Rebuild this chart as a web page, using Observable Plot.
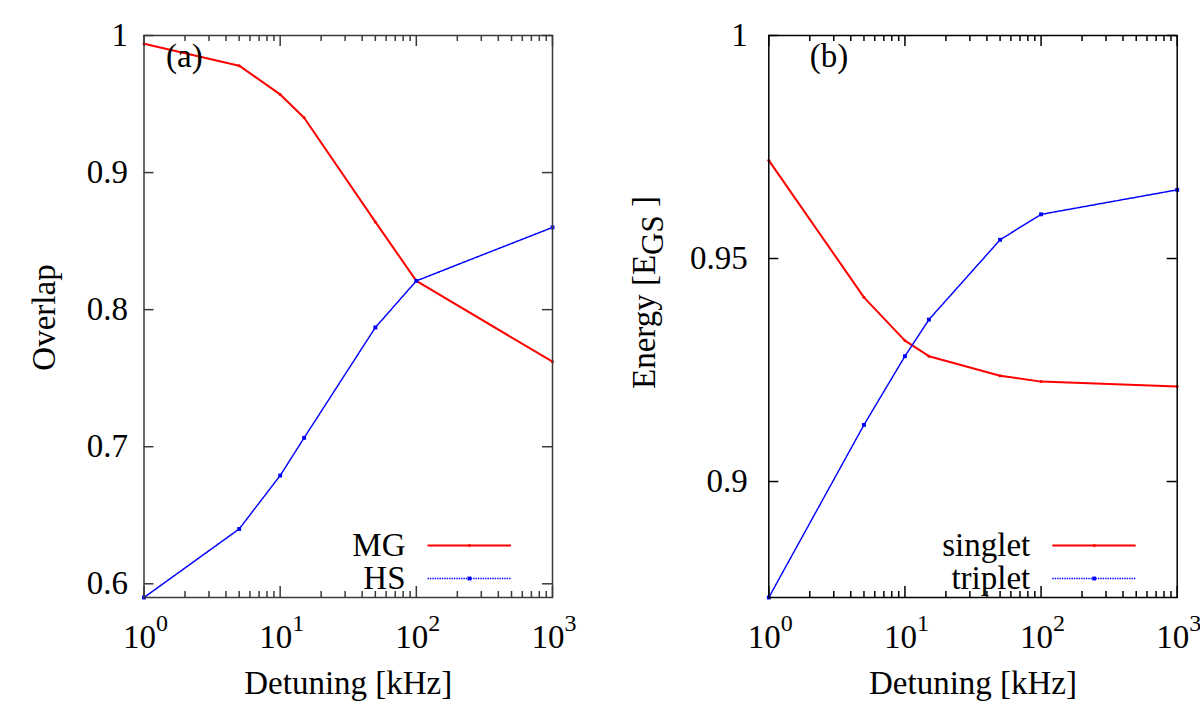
<!DOCTYPE html>
<html>
<head>
<meta charset="utf-8">
<script src="https://cdn.jsdelivr.net/npm/d3@7"></script>
<script src="https://cdn.jsdelivr.net/npm/@observablehq/plot@0.6"></script>
<style>
  body { margin: 0; background: #fff; }
  #wrap { display: flex; width: 1200px; height: 720px; background: #fff; }
  #wrap svg { display: block; overflow: visible; font-family: "Liberation Serif", "Times New Roman", serif !important; }
  #wrap svg text, #wrap svg tspan, #wrap svg g { font-family: "Liberation Serif", "Times New Roman", serif !important; }
</style>
</head>
<body>
<div id="wrap"></div>
<script>
// ---- data ----
const detuning = [1, 5, 10, 15, 50, 100, 1000];
const overlapMG = [0.994, 0.978, 0.957, 0.940, 0.864, 0.821, 0.762];
const overlapHS = [0.590, 0.640, 0.679, 0.7065, 0.787, 0.821, 0.860];
const energySinglet = [0.972, 0.9413, 0.9316, 0.9281, 0.9237, 0.9224, 0.9213];
const energyTriplet = [0.874, 0.9127, 0.9281, 0.9363, 0.9542, 0.9599, 0.9654];

const xDomain = [1, 1000];
const xMajor = [1, 10, 100, 1000];
const xMinor = [2, 3, 4, 5, 6, 7, 8, 9, 20, 30, 40, 50, 60, 70, 80, 90, 200, 300, 400, 500, 600, 700, 800, 900];
const xTickBase = ["10", "10", "10", "10"];
const xTickExp = ["0", "1", "2", "3"];
const xLabel = "Detuning [kHz]";

const yDomainA = [0.59, 1];
const yTicksA = [0.6, 0.7, 0.8, 0.9, 1];
const yTickLabelsA = ["0.6", "0.7", "0.8", "0.9", "1"];
const yLabelA = "Overlap";
const namesA = ["MG", "HS"];

const yDomainB = [0.874, 1];
const yTicksB = [0.9, 0.95, 1];
const yTickLabelsB = ["0.9", "0.95", "1"];
const yLabelB = "Energy [EGS]";
const namesB = ["singlet", "triplet"];

const FONT = "Liberation Serif";
const RED = "#ff0000";
const BLUE = "#0000ff";

function rows(values) {
  return detuning.map((x, i) => ({x, y: values[i]}));
}

function panel(cfg) {
  const width = 600, height = 720;
  const marginTop = 35, marginBottom = 123;
  const W = width - cfg.marginLeft - cfg.marginRight;
  const H = height - marginTop - marginBottom;
  const styles = [
    {stroke: RED, strokeWidth: 2, dash: null, r: 1.5},
    {stroke: BLUE, strokeWidth: 1.5, dash: "1.4,1", r: 2.2}
  ];
  const legendDy = [-52, -19];
  const marks = [];
  // ticks (inward, mirrored)
  const tk = {stroke: cfg.frameColor, strokeWidth: 1.5};
  marks.push(Plot.tickY(cfg.yTicks, {y: d => d, insetRight: W - 10, ...tk}));
  marks.push(Plot.tickY(cfg.yTicks, {y: d => d, insetLeft: W - 10, ...tk}));
  marks.push(Plot.tickX(xMajor, {x: d => d, insetTop: H - 11, ...tk}));
  marks.push(Plot.tickX(xMajor, {x: d => d, insetBottom: H - 11, ...tk}));
  marks.push(Plot.tickX(xMinor, {x: d => d, insetTop: H - 6, ...tk}));
  marks.push(Plot.tickX(xMinor, {x: d => d, insetBottom: H - 6, ...tk}));
  // data
  cfg.series.forEach((vals, i) => {
    const s = styles[i];
    marks.push(Plot.line(rows(vals), {x: "x", y: "y", stroke: s.stroke, strokeWidth: s.strokeWidth, strokeDasharray: s.dash}));
    if (i === 0) {
      marks.push(Plot.dot(rows(vals), {x: "x", y: "y", r: s.r, fill: s.stroke}));
    } else {
      marks.push(Plot.dot(rows(vals), {x: "x", y: "y", symbol: "square", r: s.r, fill: s.stroke}));
    }
  });
  // legend
  cfg.names.forEach((name, i) => {
    const s = styles[i];
    const dy = legendDy[i];
    marks.push(Plot.text([name], {frameAnchor: "bottom-right", dx: -147, dy, textAnchor: "end", lineAnchor: "middle", fontSize: 33, fontFamily: FONT, fill: "#000"}));
    marks.push(Plot.tickY([cfg.yDomain[0]], {y: d => d, dy, insetLeft: 284, insetRight: 41, stroke: s.stroke, strokeWidth: s.strokeWidth, strokeDasharray: s.dash}));
    if (i === 0) {
      marks.push(Plot.dot([cfg.yDomain[0]], {x: () => xDomain[1], y: d => d, dx: -83, dy, r: s.r, fill: s.stroke}));
    } else {
      marks.push(Plot.dot([cfg.yDomain[0]], {x: () => xDomain[1], y: d => d, dx: -83, dy, symbol: "square", r: s.r, fill: s.stroke}));
    }
  });
  // frame
  marks.push(Plot.frame({stroke: cfg.frameColor, strokeWidth: 1.5}));
  // y tick labels
  marks.push(Plot.text(cfg.yTicks, {y: d => d, text: (d, i) => cfg.yTickLabels[i], frameAnchor: "left", dx: cfg.tickLabelDx, textAnchor: "end", lineAnchor: "middle", fontSize: 33, fontFamily: FONT, fill: "#000"}));
  // x tick labels
  marks.push(Plot.text(xMajor, {x: d => d, text: (d, i) => xTickBase[i], frameAnchor: "bottom", dx: 12, dy: 50, textAnchor: "end", lineAnchor: "bottom", fontSize: 33, fontFamily: FONT, fill: "#000"}));
  marks.push(Plot.text(xMajor, {x: d => d, text: (d, i) => xTickExp[i], frameAnchor: "bottom", dx: 12, dy: 33, textAnchor: "start", lineAnchor: "bottom", fontSize: 24, fontFamily: FONT, fill: "#000"}));
  // axis labels
  marks.push(Plot.text([xLabel], {frameAnchor: "bottom", dy: 86, textAnchor: "middle", lineAnchor: "middle", fontSize: 33, fontFamily: FONT, fill: "#000"}));
  marks.push(Plot.text([cfg.yLabel], {frameAnchor: "left", rotate: -90, dx: cfg.yLabelDx, dy: cfg.yLabelDy, textAnchor: "middle", lineAnchor: "middle", fontSize: 33, fontFamily: FONT, fill: "#000"}));
  // panel tag
  marks.push(Plot.text([cfg.tag], {frameAnchor: "top-left", dx: cfg.tagDx, dy: 31, textAnchor: "start", lineAnchor: "bottom", fontSize: 33, fontFamily: FONT, fill: "#000"}));

  const svg = Plot.plot({
    width, height, marginTop, marginBottom,
    marginLeft: cfg.marginLeft, marginRight: cfg.marginRight,
    x: {type: "log", domain: xDomain, axis: null},
    y: {domain: cfg.yDomain, axis: null},
    style: {background: "#fff", fontFamily: FONT},
    marks
  });
  return svg;
}

const wrap = document.getElementById("wrap");
const svgA = panel({
  marginLeft: 143.5, marginRight: 48, frameColor: "#3a3a3a",
  yDomain: yDomainA, yTicks: yTicksA, yTickLabels: yTickLabelsA,
  series: [overlapMG, overlapHS], names: namesA,
  yLabel: yLabelA, yLabelDx: -100, yLabelDy: 1,
  tag: "(a)", tagDx: 22, tickLabelDx: -16
});
const svgB = panel({
  marginLeft: 168.3, marginRight: 23.3, frameColor: "#000",
  yDomain: yDomainB, yTicks: yTicksB, yTickLabels: yTickLabelsB,
  series: [energySinglet, energyTriplet], names: namesB,
  yLabel: yLabelB, yLabelDx: -124, yLabelDy: -24,
  tag: "(b)", tagDx: 41, tickLabelDx: -21
});
wrap.appendChild(svgA);
wrap.appendChild(svgB);

// subscript in the energy label
d3.select(svgB).selectAll("text").filter(function () { return this.textContent === yLabelB; }).each(function () {
  const t = d3.select(this);
  t.text(null);
  t.append("tspan").text("Energy [E");
  t.append("tspan").attr("font-size", 31).attr("dy", 8).text("GS");
  t.append("tspan").attr("dy", -8).text(" ]");
});
</script>
</body>
</html>
